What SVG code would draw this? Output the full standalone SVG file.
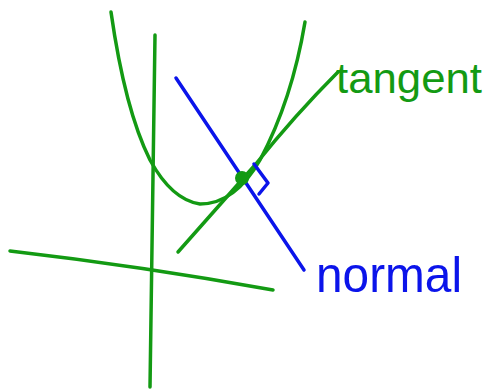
<svg xmlns="http://www.w3.org/2000/svg" width="488" height="390" viewBox="0 0 488 390">
<style>
.g{fill:none;stroke:#139a13;stroke-width:3.5;stroke-linecap:round;stroke-linejoin:round}
.b{fill:none;stroke:#0b14ea;stroke-width:3.5;stroke-linecap:round;stroke-linejoin:round}
.lbl{font-family:"Liberation Sans",Arial,sans-serif}
</style>
<rect width="488" height="390" fill="#ffffff"/>
<g id="connectors">
<path id="y-axis" class="g" d="M155,35 Q152,210 150,387"/>
<path id="x-axis" class="g" d="M10,251 Q140,266 273,290"/>
<path id="curve" class="g" d="M111,12 Q125,110 150,160 Q172,200 200,204 Q235,204 260,160 Q292,100 305,22"/>
<path id="tangent-line" class="g" d="M178,252 L255,165 Q295,115 338,72"/>
<path id="normal-line" class="b" d="M176,78 L304,270"/>
<path id="right-angle" class="b" d="M254,164 L268,183 L259,194"/>
</g>
<g id="point"><circle cx="242" cy="178" r="7" fill="#139a13"/></g>
<g id="tangent-label"><text class="lbl" x="336" y="93" font-size="42" fill="#139a13" textLength="146" lengthAdjust="spacingAndGlyphs">tangent</text></g>
<g id="normal-label"><text class="lbl" x="316" y="292" font-size="50" fill="#0b14ea" textLength="146" lengthAdjust="spacingAndGlyphs">normal</text></g>
</svg>
